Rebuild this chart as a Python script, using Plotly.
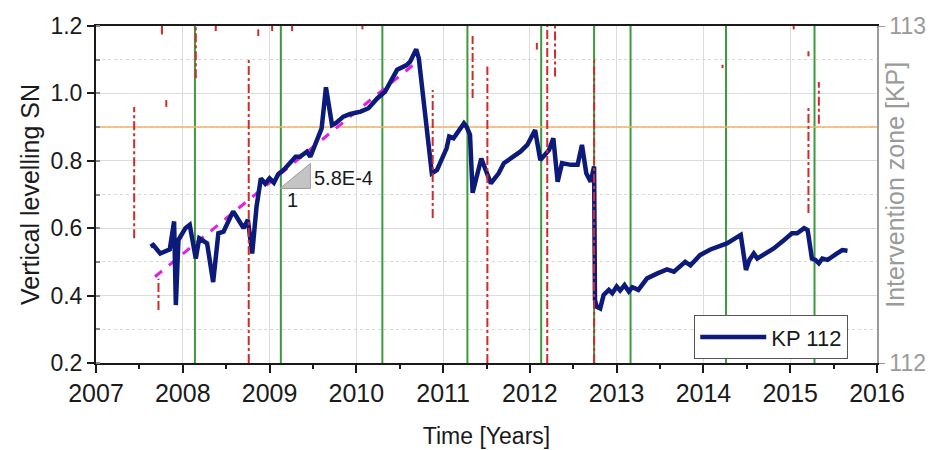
import plotly.graph_objects as go

# KP 112 vertical levelling (left axis)
kp_years = [2007.63, 2007.66, 2007.74, 2007.85, 2007.90, 2007.92, 2007.95, 2008.03, 2008.08, 2008.15,
            2008.19, 2008.28, 2008.35, 2008.41, 2008.47, 2008.58, 2008.62, 2008.70, 2008.75, 2008.80,
            2008.85, 2008.90, 2008.95, 2009.00, 2009.05, 2009.10, 2009.17, 2009.24, 2009.30, 2009.35,
            2009.43, 2009.47, 2009.56, 2009.60, 2009.65, 2009.72, 2009.76, 2009.85, 2009.93, 2010.05,
            2010.14, 2010.24, 2010.33, 2010.41, 2010.47, 2010.58, 2010.62, 2010.69, 2010.72, 2010.87,
            2010.93, 2011.04, 2011.07, 2011.12, 2011.18, 2011.24, 2011.27, 2011.31, 2011.34, 2011.44,
            2011.55, 2011.64, 2011.70, 2011.78, 2011.89, 2011.97, 2012.06, 2012.12, 2012.22, 2012.27,
            2012.32, 2012.37, 2012.47, 2012.55, 2012.60, 2012.65, 2012.70, 2012.74, 2012.75, 2012.77,
            2012.81, 2012.85, 2012.91, 2012.95, 2013.00, 2013.04, 2013.09, 2013.14, 2013.18, 2013.25,
            2013.35, 2013.47, 2013.58, 2013.66, 2013.79, 2013.85, 2013.96, 2014.08, 2014.20, 2014.27,
            2014.43, 2014.49, 2014.53, 2014.58, 2014.62, 2014.74, 2014.81, 2014.93, 2015.02, 2015.08,
            2015.16, 2015.20, 2015.25, 2015.29, 2015.33, 2015.37, 2015.43, 2015.54, 2015.60, 2015.66]
kp_values = [0.545, 0.55, 0.525, 0.537, 0.62, 0.372, 0.565, 0.60, 0.61, 0.51,
             0.57, 0.555, 0.44, 0.585, 0.59, 0.65, 0.634, 0.60, 0.625, 0.525,
             0.664, 0.748, 0.732, 0.748, 0.735, 0.76, 0.775, 0.793, 0.812, 0.812,
             0.827, 0.812, 0.867, 0.896, 1.018, 0.906, 0.911, 0.931, 0.939, 0.946,
             0.956, 0.985, 1.005, 1.04, 1.07, 1.084, 1.094, 1.131, 1.104, 0.763,
             0.773, 0.837, 0.872, 0.867, 0.891, 0.911, 0.901, 0.877, 0.705, 0.807,
             0.733, 0.763, 0.793, 0.807, 0.827, 0.847, 0.891, 0.802, 0.832, 0.867,
             0.738, 0.793, 0.788, 0.788, 0.847, 0.763, 0.738, 0.783, 0.387, 0.367,
             0.362, 0.402, 0.417, 0.407, 0.427, 0.415, 0.431, 0.412, 0.425, 0.417,
             0.451, 0.466, 0.478, 0.471, 0.50, 0.49, 0.52, 0.537, 0.55, 0.555,
             0.58, 0.476, 0.506, 0.525, 0.51, 0.53, 0.54, 0.565, 0.585, 0.585,
             0.60, 0.595, 0.51, 0.506, 0.496, 0.51, 0.506, 0.525, 0.535, 0.533]

# linear trend (slope 5.8E-4 per day)
trend_years = [2007.68, 2010.70]
trend_values = [0.456, 1.094]

# slope triangle under the trend
slope_tri_x = [2009.12, 2009.47, 2009.47, 2009.12]
slope_tri_y = [0.718, 0.792, 0.718, 0.718]

# intervention zones (right axis, KP)
zone_years = [2007.44, 2007.72, 2007.76, 2007.81, 2008.15, 2008.38, 2008.76, 2008.87, 2009.03, 2009.26,
              2010.07, 2010.88, 2011.34, 2011.51, 2012.08, 2012.20, 2012.29, 2012.74, 2014.22, 2015.04,
              2015.21, 2015.21, 2015.33]
zone_kp_lo = [112.37, 112.157, 112.975, 112.76, 112.845, 112.985, 112.0, 112.97, 112.985, 112.985,
              112.99, 112.43, 112.786, 112.0, 112.93, 112.0, 112.85, 112.0, 112.875, 112.99,
              112.445, 112.91, 112.71]
zone_kp_hi = [112.76, 112.25, 113.0, 112.78, 113.0, 113.0, 112.90, 112.99, 113.0, 113.0,
              113.0, 112.81, 112.97, 112.88, 112.95, 113.0, 113.0, 112.90, 112.885, 113.0,
              112.765, 112.925, 112.834]

# interventions (green lines) and threshold (orange line)
intervention_years = [2008.14, 2009.13, 2010.30, 2011.28, 2012.13, 2012.74, 2013.16, 2014.26, 2015.28]
threshold = 0.9
x_range = [2007, 2016]
y_range = [0.2, 1.2]

font = "Liberation Sans, Arial, sans-serif"

fig = go.Figure()

gx, gy = [], []
for yr in intervention_years:
    gx += [yr, yr, None]
    gy += [y_range[0], y_range[1], None]
fig.add_trace(go.Scatter(x=gx, y=gy, mode="lines", line=dict(color="#3c9a3c", width=2),
                         showlegend=False, hoverinfo="skip"))
fig.add_trace(go.Scatter(x=x_range, y=[threshold, threshold], mode="lines",
                         line=dict(color="#f2b366", width=1.5), showlegend=False, hoverinfo="skip"))

fig.add_trace(go.Scatter(x=slope_tri_x, y=slope_tri_y, mode="lines", fill="toself",
                         fillcolor="#c4c4c4", line=dict(color="#9a9a9a", width=1),
                         showlegend=False, hoverinfo="skip"))

fig.add_trace(go.Scatter(x=trend_years, y=trend_values, mode="lines",
                         line=dict(color="#e020e0", width=3, dash="dash"),
                         showlegend=False))

fig.add_trace(go.Scatter(x=kp_years, y=kp_values, mode="lines", name="KP 112",
                         line=dict(color="#0c1a7a", width=4.5)))

zx, zy = [], []
for x, lo, hi in zip(zone_years, zone_kp_lo, zone_kp_hi):
    zx += [x, x, None]
    zy += [lo, hi, None]
fig.add_trace(go.Scatter(x=zx, y=zy, yaxis="y2", mode="lines",
                         line=dict(color="#d02a2a", width=2, dash="dashdot"),
                         showlegend=False, hoverinfo="skip"))

fig.add_annotation(x=2009.49, y=0.75, text="5.8E-4", showarrow=False, xanchor="left",
                   font=dict(size=20, color="#1a1a1a"))
fig.add_annotation(x=2009.27, y=0.685, text="1", showarrow=False,
                   font=dict(size=20, color="#1a1a1a"))
fig.add_annotation(x=1.044, y=0.53, xref="paper", yref="paper", text="Intervention zone [KP]",
                   textangle=-90, showarrow=False, font=dict(size=25, color="#9a9a9a"))

# the page body adds an 8px margin, so the figure is 8px smaller than the window
fig.update_layout(
    width=928, height=442,
    margin=dict(l=88, r=59, t=18, b=87),
    paper_bgcolor="white", plot_bgcolor="white",
    font=dict(family=font, size=22, color="#1a1a1a"),
    showlegend=True,
    legend=dict(x=0.766, y=0.142, xanchor="left", yanchor="top",
                bordercolor="#555", borderwidth=1, bgcolor="white",
                font=dict(size=22), itemwidth=66),
    xaxis=dict(
        range=x_range, dtick=1, tickformat="d", automargin=False,
        showline=True, linecolor="#1a1a1a", linewidth=2, mirror=True,
        ticks="outside", ticklen=8, tickwidth=2, tickcolor="#1a1a1a",
        tickfont=dict(size=25), ticklabelstandoff=-1,
        showgrid=True, gridcolor="#dcdcdc", gridwidth=1,
        minor=dict(dtick=0.5, ticks="outside", ticklen=4, tickcolor="#1a1a1a", showgrid=False),
        title=dict(text="Time [Years]", font=dict(size=23), standoff=22),
        zeroline=False,
    ),
    yaxis=dict(
        range=y_range, dtick=0.2, tickformat=".1f", automargin=False,
        showline=True, linecolor="#1a1a1a", linewidth=2,
        ticks="outside", ticklen=7, tickwidth=2, tickcolor="#1a1a1a",
        tickfont=dict(size=23),
        showgrid=True, gridcolor="#dcdcdc", gridwidth=1,
        minor=dict(dtick=0.1, ticks="inside", ticklen=4, tickcolor="#888",
                   showgrid=True, gridcolor="#d8d8d8", griddash="dot"),
        title=dict(text="Vertical levelling SN", font=dict(size=25), standoff=4),
        zeroline=False,
    ),
    yaxis2=dict(
        range=[112, 113], tickvals=[112, 113], overlaying="y", side="right", automargin=False,
        showline=True, linecolor="#999", linewidth=1.5,
        ticks="outside", ticklen=6, tickcolor="#999",
        tickfont=dict(color="#9a9a9a", size=23), showgrid=False, zeroline=False,
    ),
)

fig.write_html("out.html")
